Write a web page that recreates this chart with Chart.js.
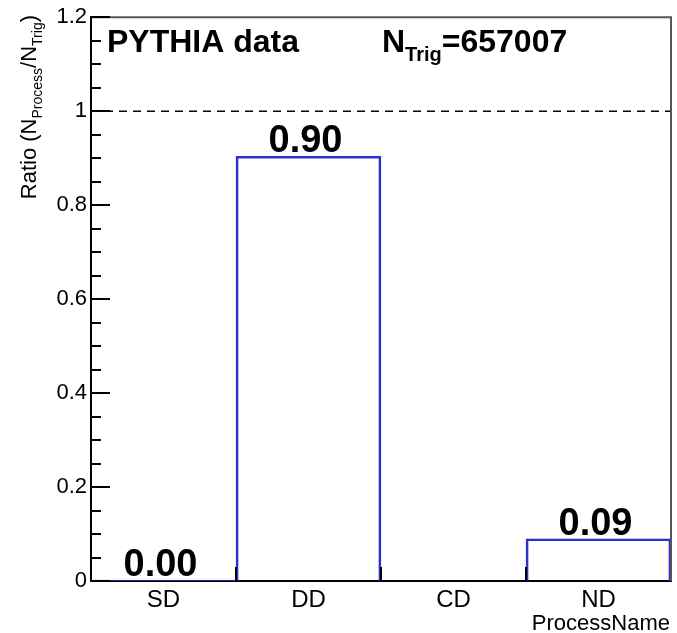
<!DOCTYPE html>
<html>
<head>
<meta charset="utf-8">
<script src="https://cdn.jsdelivr.net/npm/chart.js@4/dist/chart.umd.min.js"></script>
<style>
  html, body { margin: 0; padding: 0; background: #fff; }
  #wrap { width: 677px; height: 633px; }
</style>
</head>
<body>
<div id="wrap"><canvas id="ratioChart" width="677" height="633"></canvas></div>
<script>
// values
const processNames = ["SD", "DD", "CD", "ND"];
const ratios = [0.002, 0.904, 0, 0.09];
const yMin = 0;
const yMax = 1.2;
const yMajorStep = 0.2;
const yMinorStep = 0.05;
const refLine = 1;
const titleText = "PYTHIA data";
const nTrig = "657007";

const FONT = "'Liberation Sans', Arial, Helvetica, sans-serif";

// ROOT style inward ticks, frame, dashed ref line, texts
const rootStyle = {
  id: "rootStyle",
  afterDatasetsDraw(chart) {
    const ctx = chart.ctx;
    const area = chart.chartArea;
    const y = chart.scales.y;
    const x = chart.scales.x;

    ctx.save();

    // dashed line at y = 1
    const yRef = y.getPixelForValue(refLine);
    ctx.strokeStyle = "#000";
    ctx.lineWidth = 1.5;
    ctx.setLineDash([8, 6]);
    ctx.beginPath();
    ctx.moveTo(area.left, yRef);
    ctx.lineTo(area.right, yRef);
    ctx.stroke();
    ctx.setLineDash([]);

    // top and right frame
    ctx.strokeStyle = "#555";
    ctx.lineWidth = 2;
    ctx.beginPath();
    ctx.moveTo(area.left, area.top);
    ctx.lineTo(area.right, area.top);
    ctx.lineTo(area.right, area.bottom);
    ctx.stroke();

    // y ticks (inward)
    ctx.strokeStyle = "#000";
    ctx.lineWidth = 2;
    const nMinor = Math.round((yMax - yMin) / yMinorStep);
    for (let i = 0; i <= nMinor; i++) {
      const v = yMin + i * yMinorStep;
      const py = Math.round(y.getPixelForValue(v));
      const major = i % Math.round(yMajorStep / yMinorStep) === 0;
      ctx.beginPath();
      ctx.moveTo(area.left, py);
      ctx.lineTo(area.left + (major ? 19 : 10), py);
      ctx.stroke();
    }

    // x ticks at bin edges
    for (let i = 0; i < processNames.length - 1; i++) {
      const px = (x.getPixelForValue(i) + x.getPixelForValue(i + 1)) / 2;
      ctx.beginPath();
      ctx.moveTo(px, area.bottom);
      ctx.lineTo(px, area.bottom - 14);
      ctx.stroke();
    }

    // bin content labels
    const meta = chart.getDatasetMeta(0);
    ctx.fillStyle = "#000";
    ctx.font = "bold 38px " + FONT;
    ctx.textAlign = "center";
    ctx.textBaseline = "alphabetic";
    meta.data.forEach((bar, i) => {
      if (ratios[i] > 0) {
        ctx.fillText(ratios[i].toFixed(2), bar.x - 3, bar.y - 4);
      }
    });

    // header texts
    ctx.textAlign = "left";
    ctx.font = "bold 32px " + FONT;
    ctx.fillText(titleText, 107, 52);

    let tx = 382;
    ctx.fillText("N", tx, 52);
    tx += ctx.measureText("N").width;
    ctx.font = "bold 20px " + FONT;
    ctx.fillText("Trig", tx, 61);
    tx += ctx.measureText("Trig").width;
    ctx.font = "bold 32px " + FONT;
    ctx.fillText("=" + nTrig, tx, 52);

    // x axis title
    ctx.font = "22px " + FONT;
    ctx.textAlign = "right";
    ctx.fillText("ProcessName", 670, 630);

    // y axis title, rotated, right aligned at the top
    ctx.translate(36, 15);
    ctx.rotate(-Math.PI / 2);
    const parts = [
      ["Ratio (N", 22, 0],
      ["Process", 14, 6],
      ["/N", 22, 0],
      ["Trig", 14, 6],
      [")", 22, 0]
    ];
    let total = 0;
    parts.forEach(p => {
      ctx.font = p[1] + "px " + FONT;
      total += ctx.measureText(p[0]).width;
    });
    let px = -total;
    ctx.textAlign = "left";
    parts.forEach(p => {
      ctx.font = p[1] + "px " + FONT;
      ctx.fillText(p[0], px, p[2]);
      px += ctx.measureText(p[0]).width;
    });

    ctx.restore();
  }
};

new Chart(document.getElementById("ratioChart"), {
  type: "bar",
  data: {
    labels: processNames,
    datasets: [{
      data: ratios,
      backgroundColor: "rgba(0,0,0,0)",
      borderColor: "#3030c8",
      borderWidth: 2,
      borderSkipped: "bottom",
      barPercentage: 1,
      categoryPercentage: 1
    }]
  },
  options: {
    responsive: false,
    animation: false,
    layout: { padding: { top: 15, right: 6, left: 0, bottom: 0 } },
    plugins: {
      legend: { display: false },
      tooltip: { enabled: false }
    },
    scales: {
      x: {
        grid: { display: false, drawTicks: false },
        border: { display: true, color: "#000", width: 2 },
        ticks: {
          color: "#000",
          font: { family: FONT, size: 24 },
          padding: 5
        },
        afterFit(scale) { scale.height = 52; }
      },
      y: {
        min: yMin,
        max: yMax,
        grid: { display: false, drawTicks: false },
        border: { display: true, color: "#000", width: 2 },
        ticks: {
          stepSize: yMajorStep,
          color: "#000",
          font: { family: FONT, size: 22 },
          padding: 4,
          callback: v => String(Number(v.toFixed(1)))
        },
        afterFit(scale) { scale.width = 91; }
      }
    }
  },
  plugins: [rootStyle]
});
</script>
</body>
</html>
